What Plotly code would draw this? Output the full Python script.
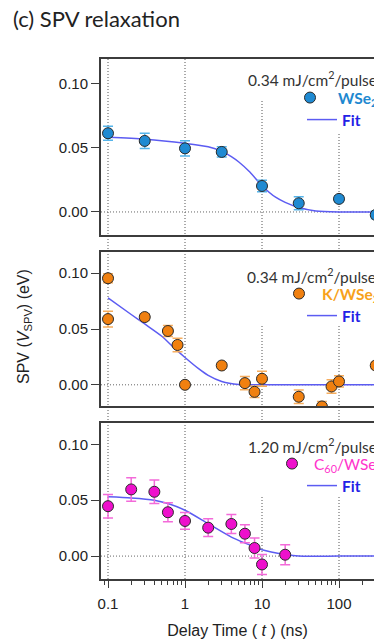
import plotly.graph_objects as go

# ---------------- data ----------------
t_wse2 = [0.1, 0.3, 1, 3, 10, 30, 100, 300]
v_wse2 = [0.0615, 0.0555, 0.0497, 0.0469, 0.0203, 0.0068, 0.0102, -0.0023]
e_wse2 = [0.0055, 0.006, 0.006, 0.004, 0.0045, 0.005, 0.0025, 0.003]
fit_t_wse2 = [0.1, 0.3, 1, 2, 3, 4, 5, 7, 10, 15, 20, 30, 50, 100, 400]
fit_v_wse2 = [0.0583, 0.0568, 0.0536, 0.0510, 0.0475, 0.0432, 0.0390, 0.0310, 0.0205,
              0.0115, 0.0075, 0.0035, 0.0008, 0.0, 0.0]

t_k = [0.1, 0.1, 0.3, 0.6, 0.8, 1, 3, 6, 8, 10, 30, 60, 80, 100, 300]
v_k = [0.0955, 0.0589, 0.0607, 0.0482, 0.0357, 0.0, 0.0173, 0.0015, -0.0063, 0.0054,
       -0.0107, -0.0194, -0.0015, 0.003, 0.0173]
e_k = [0.004, 0.007, 0.003, 0.005, 0.006, 0.002, 0.002, 0.006, 0.005, 0.0067,
       0.006, 0.0045, 0.006, 0.005, 0.003]
fit_t_k = [0.1, 0.2, 0.3, 0.5, 0.7, 1, 1.5, 2, 3, 5, 10, 100, 400]
fit_v_k = [0.0778, 0.063, 0.0545, 0.0435, 0.034, 0.0245, 0.0145, 0.0085, 0.003, 0.0003, 0.0, 0.0, 0.0]

t_c60 = [0.1, 0.2, 0.4, 0.6, 1, 2, 4, 6, 8, 10, 20]
v_c60 = [0.0446, 0.0596, 0.0575, 0.0392, 0.0314, 0.0254, 0.0287, 0.020, 0.0072, -0.0075, 0.0012]
e_c60 = [0.0105, 0.0105, 0.0105, 0.0085, 0.0075, 0.008, 0.0085, 0.008, 0.009, 0.009, 0.009]
fit_t_c60 = [0.1, 0.2, 0.4, 0.6, 1, 2, 4, 6, 10, 20, 30, 100, 400]
fit_v_c60 = [0.053, 0.052, 0.050, 0.047, 0.041, 0.029, 0.017, 0.0117, 0.0057, 0.0015, 0.0, 0.0, 0.0]

x_major = [0.1, 1, 10, 100]
x_major_labels = ["0.1", "1", "10", "100"]
x_minor = [0.09] + [k * 0.1 for k in range(2, 10)] + list(range(2, 10)) + \
          [k * 10 for k in range(2, 10)] + [200, 300]
y_ticks = [0.0, 0.05, 0.10]
y_tick_labels = ["0.00", "0.05", "0.10"]

fluence = ["0.34 mJ/cm<sup>2</sup>/pulse", "0.34 mJ/cm<sup>2</sup>/pulse", "1.20 mJ/cm<sup>2</sup>/pulse"]

# ---------------- geometry (pixels) ----------------
W, H = 374, 639
ML, MR, MT, MB = 101, 0, 59, 60
PW, PH = W - ML - MR, H - MT - MB
plot_bottom = H - MB


def py(p):  # pixel y -> paper
    return (plot_bottom - p) / PH


def px(p):  # pixel x -> paper
    return (p - ML) / PW


panels = [(59, 235, [-0.018, 0.1195]), (252, 406, [-0.019, 0.119]), (423, 579, [-0.0205, 0.119])]
xrange_log = [-1.091, 2.4545]

FRAME = "#3c3c3c"
FIT_COLOR = "#5c5cf2"

fig = go.Figure()

series = [
    (t_wse2, v_wse2, e_wse2, fit_t_wse2, fit_v_wse2, "#1f8ad2", "#55b4ea",
     '<b><span style="color:#1e88d0">WSe<sub>2</sub></span></b>'),
    (t_k, v_k, e_k, fit_t_k, fit_v_k, "#f08010", "#f6ad5e",
     '<b><span style="color:#f7a21b">K/WSe<sub>2</sub></span></b>'),
    (t_c60, v_c60, e_c60, fit_t_c60, fit_v_c60, "#ee10cc", "#f36ad9",
     '<span style="color:#ff33cc">C<sub>60</sub>/WSe<sub>2</sub></span>'),
]

for i, (t, v, e, ft, fv, col, ecol, name) in enumerate(series):
    n = i + 1
    xa = "x" if n == 1 else f"x{n}"
    ya = "y" if n == 1 else f"y{n}"
    leg_data = "legend" if n == 1 else f"legend{n}"
    leg_fit = f"legend{n + 3}"
    fig.add_trace(go.Scatter(
        x=ft, y=fv, mode="lines", line=dict(color=FIT_COLOR, width=1.5, shape="spline", smoothing=0.7),
        xaxis=xa, yaxis=ya, name='<b><span style="color:#2222e6">Fit</span></b>', legend=leg_fit,
        hoverinfo="skip"))
    fig.add_trace(go.Scatter(
        x=t, y=v, mode="markers",
        marker=dict(color=col, size=11, line=dict(color="#2a2a2a", width=1)),
        error_y=dict(type="data", array=e, color=ecol, thickness=1.5, width=5),
        xaxis=xa, yaxis=ya, name=name, legend=leg_data))

shapes = []
for xv in x_major:
    shapes.append(dict(type="line", xref="x3", yref="paper", x0=xv, x1=xv, y0=0, y1=1,
                       line=dict(color="#555555", width=1, dash="1px,2px"), layer="below"))
boxes = [(240, 59, 374, 101), (295, 59, 374, 133),
         (255, 252, 374, 326), (255, 423, 374, 497)]
for x0, y0, x1, y1 in boxes:
    shapes.append(dict(type="rect", xref="paper", yref="paper", x0=px(x0), x1=px(x1),
                       y0=py(y1), y1=py(y0), fillcolor="white", line=dict(width=0), layer="below"))
for n in range(1, 4):
    ya = "y" if n == 1 else f"y{n}"
    shapes.append(dict(type="line", xref="paper", yref=ya, x0=0, x1=1, y0=0, y1=0,
                       line=dict(color="#666666", width=1, dash="1px,2px"), layer="below"))

layout = dict(
    width=W, height=H, margin=dict(l=ML, r=MR, t=MT, b=MB, autoexpand=False),
    paper_bgcolor="white", plot_bgcolor="white",
    font=dict(family="Liberation Sans, Arial, sans-serif", size=15, color="#222222"),
    title=dict(text="(c) SPV relaxation", x=13 / W, xanchor="left", xref="container",
               y=1 - 19 / H, yanchor="middle", yref="container",
               font=dict(family="Lato, sans-serif", size=22, color="#222222")),
    shapes=shapes,
    showlegend=True,
)

tick_font = dict(family="Liberation Sans, Arial, sans-serif", size=15, color="#222222")
for n, (top, bot, yr) in enumerate(panels, start=1):
    sx = "" if n == 1 else str(n)
    xa = dict(type="log", range=xrange_log, domain=[0, 1], anchor="y" + sx,
              showline=True, linecolor=FRAME, linewidth=2, mirror=True,
              showgrid=False, zeroline=False, fixedrange=True, automargin=False)
    if n == 3:
        xa.update(ticks="outside", ticklen=7, tickwidth=1, tickcolor=FRAME,
                  tickmode="array", tickvals=x_major, ticktext=x_major_labels,
                  tickfont=tick_font, ticklabelstandoff=3,
                  minor=dict(ticks="outside", ticklen=4, tickcolor=FRAME, tickmode="array",
                             tickvals=x_minor, showgrid=False),
                  title=dict(text="Delay Time ( <i>t</i> ) (ns)", standoff=14,
                             font=dict(family="Liberation Sans, Arial, sans-serif", size=16, color="#222222")))
    else:
        xa.update(showticklabels=False, ticks="")
    ya = dict(range=yr, domain=[py(bot), py(top)], anchor="x" + sx,
              showline=True, linecolor=FRAME, linewidth=2, mirror=False,
              ticks="outside", ticklen=8, tickwidth=1, tickcolor=FRAME,
              tickmode="array", tickvals=y_ticks, ticktext=y_tick_labels,
              tickfont=tick_font, showgrid=False, zeroline=False, fixedrange=True, automargin=False)
    layout["xaxis" + sx] = xa
    layout["yaxis" + sx] = ya

legend_font = dict(family="Lato, sans-serif", size=15.5, color="#222222")
# data-entry legends: (left x, top y, itemwidth); marker centre at lx + 5 + iw/2, text at lx + iw + 10
leg_data_pos = [(282, 81, 46), (276, 277, 36), (270, 447, 34)]
leg_fit_pos = [(302, 103), (302, 299), (302, 469)]
for n, (lx, ly, iw) in enumerate(leg_data_pos, start=1):
    key = "legend" if n == 1 else f"legend{n}"
    layout[key] = dict(x=px(lx), y=py(ly), xanchor="left", yanchor="top",
                       bgcolor="rgba(0,0,0,0)", borderwidth=0, font=legend_font,
                       itemwidth=iw)
for n, (lx, ly) in enumerate(leg_fit_pos, start=1):
    key = f"legend{n + 3}"
    layout[key] = dict(x=px(lx), y=py(ly), xanchor="left", yanchor="top",
                       bgcolor="rgba(0,0,0,0)", borderwidth=0, font=legend_font,
                       itemwidth=30)

annotations = []
fl_pos = [(246, 79), (245, 275), (246, 445)]
for (ax, ay), txt in zip(fl_pos, fluence):
    annotations.append(dict(text=txt, xref="paper", yref="paper", x=px(ax), y=py(ay),
                            xanchor="left", yanchor="middle", showarrow=False,
                            font=dict(family="Lato, sans-serif", size=15.5, color="#333333")))
annotations.append(dict(text="SPV (<i>V</i><sub>SPV</sub>) (eV)", xref="paper", yref="paper",
                        x=px(24), y=py(327), xanchor="center", yanchor="middle", textangle=-90,
                        showarrow=False,
                        font=dict(family="Liberation Sans, Arial, sans-serif", size=16, color="#222222")))
layout["annotations"] = annotations

fig.update_layout(**layout)
fig.write_html("out.html")
